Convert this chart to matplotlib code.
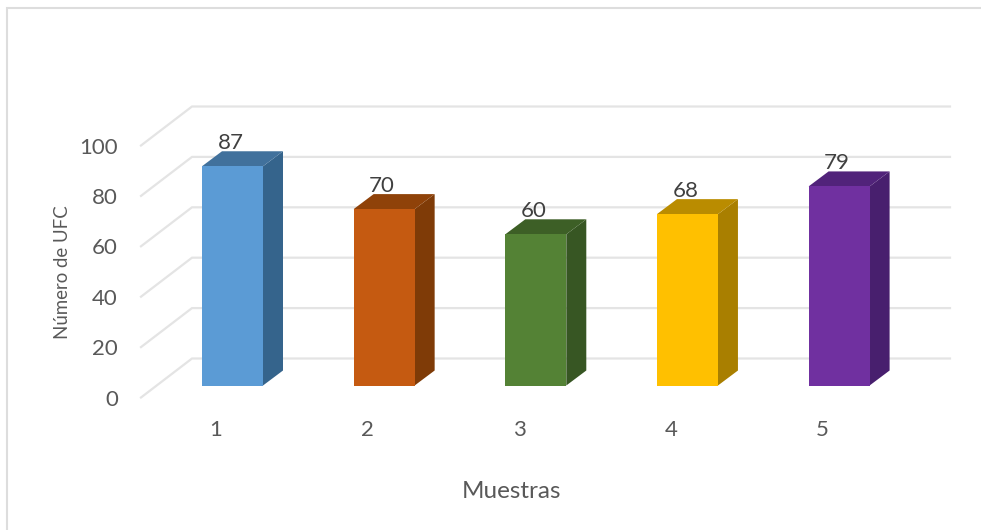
import matplotlib
matplotlib.use("Agg")
import matplotlib.pyplot as plt
from matplotlib.patches import Polygon
from matplotlib.lines import Line2D

categories = ["1", "2", "3", "4", "5"]
values = [87, 70, 60, 68, 79]
ticks = [0, 20, 40, 60, 80, 100]
front_colors = ["#5B9BD5", "#C55A11", "#548235", "#FFC000", "#7030A0"]
top_colors = ["#41719C", "#8F4209", "#3D5F26", "#BA8C00", "#51237A"]
side_colors = ["#35648C", "#7F3B07", "#375623", "#A97F00", "#481F6E"]

W, H = 981, 530
PXU = 2.52      # pixels per value unit
PXC = 151.65    # pixels per category
X0, Y0 = 232.5, 385.5

plt.rcParams['font.family'] = ['Lato', 'DejaVu Sans']
fig = plt.figure(figsize=(W / 100, H / 100), dpi=100)
ax = fig.add_axes([0, 0, 1, 1])
ax.set_xlim(1 + (0 - X0) / PXC, 1 + (W - X0) / PXC)
ax.set_ylim((Y0 - H) / PXU, Y0 / PXU)
ax.axis("off")

def xu(px): return px / PXC
def yu(px): return px / PXU

# frame: only the top and left edges show
fig.add_artist(Line2D([6.5 / W, 6.5 / W, 1], [0, 1 - 8 / H, 1 - 8 / H],
                      color="#DDDDDD", lw=1.5, solid_joinstyle="miter"))

# gridlines, wall depth
xf, xb, xe = 1 + xu(141 - X0), 1 + xu(192 - X0), 1 + xu(950 - X0)
yf, yb = yu(-12), yu(27)
for t in ticks:
    ax.plot([xf, xb, xe], [t + yf, t + yb, t + yb], color="#E4E4E4", lw=1.6, solid_joinstyle="miter", zorder=1)

# bars
w = 61 / PXC
dx, dy = xu(20), yu(15)
for i, (c, v) in enumerate(zip(categories, values)):
    xc = i + 1
    l, r = xc - w / 2, xc + w / 2
    ax.bar(xc, v, width=w, color=front_colors[i], zorder=4)
    ax.add_patch(Polygon([(r, 0), (r + dx, dy), (r + dx, v + dy), (r, v)], color=side_colors[i], lw=0, zorder=3))
    ax.add_patch(Polygon([(l, v), (l + dx, v + dy), (r + dx, v + dy), (r, v)], color=top_colors[i], lw=0, zorder=3))
    ax.text(xc + xu(-2), v + yu(23.5), str(v), ha="center", va="center", fontsize=16, color="#404040", zorder=5)
    ax.text(xc + xu(-16.5), yu(-44.5), c, ha="center", va="center", fontsize=16, color="#595959")

# value axis labels
for t in ticks:
    ax.text(1 + xu(118 - X0), t + yu(-14), str(t), ha="right", va="center", fontsize=16, color="#595959")

ax.text(1 + xu(512 - X0), yu(-105.5), "Muestras", ha="center", va="center", fontsize=17.5, color="#595959")
ax.text(1 + xu(62 - X0), yu(385 - 272), "Número de UFC", ha="center", va="center", rotation=90,
        fontsize=13.4, color="#595959")

fig.savefig("out.png", dpi=100, facecolor="white")
